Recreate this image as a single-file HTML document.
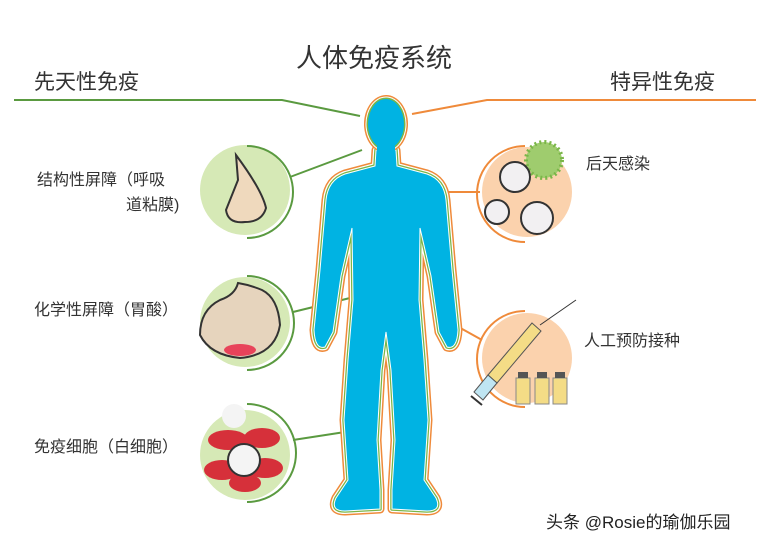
<!DOCTYPE html>
<html><head><meta charset="utf-8"><style>
body{margin:0;width:778px;height:543px;background:#fff;overflow:hidden;font-family:"Liberation Sans","Noto Sans CJK SC",sans-serif;}
svg{position:absolute;left:0;top:0}
.t{position:absolute;color:#333;white-space:nowrap}
</style></head><body>
<svg width="778" height="543">
<defs>
<path id="b" d="M376,150 L375,166 L345,174 Q328,180 326,200 L320,270 L314,330 Q315,350 325,347 L333,332 L341,276 L352,228 L353,300 L348,360 L344,420 L348,480 L336,498 Q330,511 345,511 L380,509 L380,490 L377,440 L381,370 L386,332 L391,370 L395,440 L392,490 L392,509 L427,511 Q442,511 436,498 L424,480 L428,420 L424,360 L419,300 L420,228 L431,276 L439,332 L447,347 Q457,350 458,330 L452,270 L446,200 Q444,180 427,174 L397,166 L396,150 Z"/>
</defs>
<polyline points="14,100 282,100 360,116" fill="none" stroke="#5a9a40" stroke-width="2"/>
<polyline points="412,114 487,100 756,100" fill="none" stroke="#ef8a3a" stroke-width="2"/>
<line x1="290" y1="177" x2="362" y2="150" stroke="#5a9a40" stroke-width="2"/>
<line x1="293" y1="312" x2="350" y2="298" stroke="#5a9a40" stroke-width="2"/>
<line x1="293" y1="440" x2="345" y2="432" stroke="#5a9a40" stroke-width="2"/>
<line x1="442" y1="192" x2="480" y2="192" stroke="#ef8a3a" stroke-width="2"/>
<line x1="455" y1="325" x2="482" y2="340" stroke="#ef8a3a" stroke-width="2"/>
<use href="#b" fill="none" stroke="#ef8a3a" stroke-width="9" stroke-linejoin="round"/>
<use href="#b" fill="none" stroke="#fff" stroke-width="6" stroke-linejoin="round"/>
<use href="#b" fill="none" stroke="#7ab648" stroke-width="3.5" stroke-linejoin="round"/>
<use href="#b" fill="#00b3e3" stroke="#fff" stroke-width="1"/>
<ellipse cx="386" cy="124" rx="22" ry="29" fill="#ef8a3a"/>
<ellipse cx="386" cy="124" rx="20.5" ry="27.5" fill="#fff"/>
<ellipse cx="386" cy="124" rx="19.5" ry="26.5" fill="#7ab648"/>
<ellipse cx="386" cy="124" rx="18" ry="25" fill="#00b3e3"/>
<rect x="377" y="140" width="18" height="30" fill="#00b3e3"/>
<g fill="#d6e9b6">
<circle cx="245" cy="190" r="45"/><circle cx="245" cy="322" r="45"/><circle cx="245" cy="455" r="45"/></g>
<g fill="none" stroke="#5a9a40" stroke-width="2">
<path d="M247,146 A46,46 0 0 1 247,238"/>
<path d="M247,276 A47,47 0 0 1 247,370"/>
<path d="M247,404 A48,48 0 0 1 247,502"/>
</g>
<path d="M236,155 Q262,190 266,208 Q262,222 245,222 Q228,224 226,210 Q232,195 238,180 Z" fill="#efd9bd" stroke="#333" stroke-width="2"/>
<path d="M238,283 Q235,295 220,300 Q200,310 200,335 Q210,355 240,358 Q275,355 280,325 Q278,298 262,290 Q250,285 238,283Z" fill="#e6d4bd" stroke="#333" stroke-width="2"/>
<ellipse cx="240" cy="350" rx="16" ry="6" fill="#e8435a"/>
<g fill="#d6303a"><ellipse cx="228" cy="440" rx="20" ry="10"/><ellipse cx="262" cy="438" rx="18" ry="10"/><ellipse cx="222" cy="470" rx="18" ry="10"/><ellipse cx="265" cy="468" rx="18" ry="10"/><ellipse cx="245" cy="483" rx="16" ry="9"/></g>
<circle cx="234" cy="416" r="12" fill="#f4f4f4"/>
<circle cx="244" cy="460" r="16" fill="#f4f4f4" stroke="#333" stroke-width="2"/>
<circle cx="527" cy="192" r="45" fill="#fbd2ad"/>
<circle cx="527" cy="358" r="45" fill="#fbd2ad"/>
<g fill="none" stroke="#ef8a3a" stroke-width="2">
<path d="M525,146 A47,47 0 0 0 525,242"/>
<path d="M525,311 A48,48 0 0 0 525,407"/>
</g>
<circle cx="544" cy="160" r="18" fill="#9fcc6e" stroke="#7ab648" stroke-width="4" stroke-dasharray="2 3"/>
<circle cx="515" cy="177" r="15" fill="#f2f0f2" stroke="#333" stroke-width="2"/>
<circle cx="497" cy="212" r="12" fill="#f2f0f2" stroke="#333" stroke-width="2"/>
<circle cx="537" cy="218" r="16" fill="#f2f0f2" stroke="#333" stroke-width="2"/>
<line x1="540" y1="325" x2="576" y2="300" stroke="#333" stroke-width="1"/>
<polygon points="532,323 541,331 497,383 488,375" fill="#f4dc86" stroke="#555" stroke-width="1"/>
<polygon points="488,375 497,383 483,400 474,392" fill="#bfe5f2" stroke="#555" stroke-width="1"/>
<line x1="471" y1="396" x2="482" y2="405" stroke="#333" stroke-width="2"/>
<g fill="#f4dc86" stroke="#888" stroke-width="1"><rect x="516" y="378" width="14" height="26"/><rect x="535" y="378" width="14" height="26"/><rect x="553" y="378" width="14" height="26"/></g>
<g fill="#555"><rect x="518" y="372" width="10" height="6"/><rect x="537" y="372" width="10" height="6"/><rect x="555" y="372" width="10" height="6"/></g>
</svg>
<div class="t" style="left:296px;top:38px;font-size:26px">人体免疫系统</div>
<div class="t" style="left:34px;top:66px;font-size:21px">先天性免疫</div>
<div class="t" style="left:610px;top:66px;font-size:21px">特异性免疫</div>
<div class="t" style="left:37px;top:166px;font-size:16px">结构性屏障（呼吸</div>
<div class="t" style="left:126px;top:191px;font-size:16px">道粘膜)</div>
<div class="t" style="left:34px;top:296px;font-size:16px">化学性屏障（胃酸）</div>
<div class="t" style="left:34px;top:433px;font-size:16px">免疫细胞（白细胞）</div>
<div class="t" style="left:586px;top:150px;font-size:16px">后天感染</div>
<div class="t" style="left:584px;top:327px;font-size:16px">人工预防接种</div>
<div class="t" style="left:546px;top:508px;font-size:17px;color:#222">头条 @Rosie的瑜伽乐园</div>
</body></html>
